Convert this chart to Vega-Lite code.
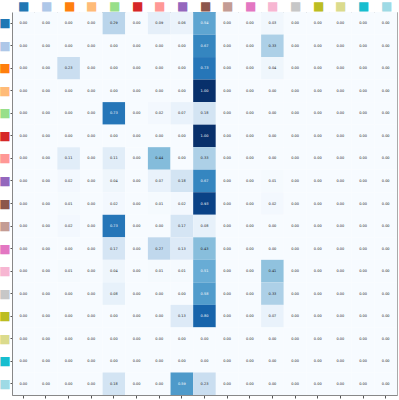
{
  "$schema": "https://vega.github.io/schema/vega-lite/v6.json",
  "width": 385,
  "height": 383,
  "autosize": "none",
  "padding": {"left": 12, "top": 12, "right": 2, "bottom": 5},
  "background": "white",
  "config": {"view": {"stroke": "#aaaaaa", "strokeWidth": 1}},
  "data": {"values": [
{"r":0,"c":0,"v":0},{"r":0,"c":1,"v":0},{"r":0,"c":2,"v":0},{"r":0,"c":3,"v":0},{"r":0,"c":4,"v":0.29},{"r":0,"c":5,"v":0},{"r":0,"c":6,"v":0.09},{"r":0,"c":7,"v":0.06},{"r":0,"c":8,"v":0.54},{"r":0,"c":9,"v":0},{"r":0,"c":10,"v":0},{"r":0,"c":11,"v":0.03},{"r":0,"c":12,"v":0},{"r":0,"c":13,"v":0},{"r":0,"c":14,"v":0},{"r":0,"c":15,"v":0},{"r":0,"c":16,"v":0},
{"r":1,"c":0,"v":0},{"r":1,"c":1,"v":0},{"r":1,"c":2,"v":0},{"r":1,"c":3,"v":0},{"r":1,"c":4,"v":0},{"r":1,"c":5,"v":0},{"r":1,"c":6,"v":0},{"r":1,"c":7,"v":0},{"r":1,"c":8,"v":0.67},{"r":1,"c":9,"v":0},{"r":1,"c":10,"v":0},{"r":1,"c":11,"v":0.33},{"r":1,"c":12,"v":0},{"r":1,"c":13,"v":0},{"r":1,"c":14,"v":0},{"r":1,"c":15,"v":0},{"r":1,"c":16,"v":0},
{"r":2,"c":0,"v":0},{"r":2,"c":1,"v":0},{"r":2,"c":2,"v":0.23},{"r":2,"c":3,"v":0},{"r":2,"c":4,"v":0},{"r":2,"c":5,"v":0},{"r":2,"c":6,"v":0},{"r":2,"c":7,"v":0},{"r":2,"c":8,"v":0.73},{"r":2,"c":9,"v":0},{"r":2,"c":10,"v":0},{"r":2,"c":11,"v":0.04},{"r":2,"c":12,"v":0},{"r":2,"c":13,"v":0},{"r":2,"c":14,"v":0},{"r":2,"c":15,"v":0},{"r":2,"c":16,"v":0},
{"r":3,"c":0,"v":0},{"r":3,"c":1,"v":0},{"r":3,"c":2,"v":0},{"r":3,"c":3,"v":0},{"r":3,"c":4,"v":0},{"r":3,"c":5,"v":0},{"r":3,"c":6,"v":0},{"r":3,"c":7,"v":0},{"r":3,"c":8,"v":1.0},{"r":3,"c":9,"v":0},{"r":3,"c":10,"v":0},{"r":3,"c":11,"v":0},{"r":3,"c":12,"v":0},{"r":3,"c":13,"v":0},{"r":3,"c":14,"v":0},{"r":3,"c":15,"v":0},{"r":3,"c":16,"v":0},
{"r":4,"c":0,"v":0},{"r":4,"c":1,"v":0},{"r":4,"c":2,"v":0},{"r":4,"c":3,"v":0},{"r":4,"c":4,"v":0.73},{"r":4,"c":5,"v":0},{"r":4,"c":6,"v":0.02},{"r":4,"c":7,"v":0.07},{"r":4,"c":8,"v":0.18},{"r":4,"c":9,"v":0},{"r":4,"c":10,"v":0},{"r":4,"c":11,"v":0},{"r":4,"c":12,"v":0},{"r":4,"c":13,"v":0},{"r":4,"c":14,"v":0},{"r":4,"c":15,"v":0},{"r":4,"c":16,"v":0},
{"r":5,"c":0,"v":0},{"r":5,"c":1,"v":0},{"r":5,"c":2,"v":0},{"r":5,"c":3,"v":0},{"r":5,"c":4,"v":0},{"r":5,"c":5,"v":0},{"r":5,"c":6,"v":0},{"r":5,"c":7,"v":0},{"r":5,"c":8,"v":1.0},{"r":5,"c":9,"v":0},{"r":5,"c":10,"v":0},{"r":5,"c":11,"v":0},{"r":5,"c":12,"v":0},{"r":5,"c":13,"v":0},{"r":5,"c":14,"v":0},{"r":5,"c":15,"v":0},{"r":5,"c":16,"v":0},
{"r":6,"c":0,"v":0},{"r":6,"c":1,"v":0},{"r":6,"c":2,"v":0.11},{"r":6,"c":3,"v":0},{"r":6,"c":4,"v":0.11},{"r":6,"c":5,"v":0},{"r":6,"c":6,"v":0.44},{"r":6,"c":7,"v":0},{"r":6,"c":8,"v":0.33},{"r":6,"c":9,"v":0},{"r":6,"c":10,"v":0},{"r":6,"c":11,"v":0},{"r":6,"c":12,"v":0},{"r":6,"c":13,"v":0},{"r":6,"c":14,"v":0},{"r":6,"c":15,"v":0},{"r":6,"c":16,"v":0},
{"r":7,"c":0,"v":0},{"r":7,"c":1,"v":0},{"r":7,"c":2,"v":0.02},{"r":7,"c":3,"v":0},{"r":7,"c":4,"v":0.04},{"r":7,"c":5,"v":0},{"r":7,"c":6,"v":0.07},{"r":7,"c":7,"v":0.18},{"r":7,"c":8,"v":0.67},{"r":7,"c":9,"v":0},{"r":7,"c":10,"v":0},{"r":7,"c":11,"v":0.01},{"r":7,"c":12,"v":0},{"r":7,"c":13,"v":0},{"r":7,"c":14,"v":0},{"r":7,"c":15,"v":0},{"r":7,"c":16,"v":0},
{"r":8,"c":0,"v":0},{"r":8,"c":1,"v":0},{"r":8,"c":2,"v":0.01},{"r":8,"c":3,"v":0},{"r":8,"c":4,"v":0.02},{"r":8,"c":5,"v":0},{"r":8,"c":6,"v":0.01},{"r":8,"c":7,"v":0.02},{"r":8,"c":8,"v":0.93},{"r":8,"c":9,"v":0},{"r":8,"c":10,"v":0},{"r":8,"c":11,"v":0.02},{"r":8,"c":12,"v":0},{"r":8,"c":13,"v":0},{"r":8,"c":14,"v":0},{"r":8,"c":15,"v":0},{"r":8,"c":16,"v":0},
{"r":9,"c":0,"v":0},{"r":9,"c":1,"v":0},{"r":9,"c":2,"v":0.02},{"r":9,"c":3,"v":0},{"r":9,"c":4,"v":0.73},{"r":9,"c":5,"v":0},{"r":9,"c":6,"v":0},{"r":9,"c":7,"v":0.17},{"r":9,"c":8,"v":0.08},{"r":9,"c":9,"v":0},{"r":9,"c":10,"v":0},{"r":9,"c":11,"v":0},{"r":9,"c":12,"v":0},{"r":9,"c":13,"v":0},{"r":9,"c":14,"v":0},{"r":9,"c":15,"v":0},{"r":9,"c":16,"v":0},
{"r":10,"c":0,"v":0},{"r":10,"c":1,"v":0},{"r":10,"c":2,"v":0},{"r":10,"c":3,"v":0},{"r":10,"c":4,"v":0.17},{"r":10,"c":5,"v":0},{"r":10,"c":6,"v":0.27},{"r":10,"c":7,"v":0.13},{"r":10,"c":8,"v":0.43},{"r":10,"c":9,"v":0},{"r":10,"c":10,"v":0},{"r":10,"c":11,"v":0},{"r":10,"c":12,"v":0},{"r":10,"c":13,"v":0},{"r":10,"c":14,"v":0},{"r":10,"c":15,"v":0},{"r":10,"c":16,"v":0},
{"r":11,"c":0,"v":0},{"r":11,"c":1,"v":0},{"r":11,"c":2,"v":0.01},{"r":11,"c":3,"v":0},{"r":11,"c":4,"v":0.04},{"r":11,"c":5,"v":0},{"r":11,"c":6,"v":0.01},{"r":11,"c":7,"v":0.01},{"r":11,"c":8,"v":0.51},{"r":11,"c":9,"v":0},{"r":11,"c":10,"v":0},{"r":11,"c":11,"v":0.41},{"r":11,"c":12,"v":0},{"r":11,"c":13,"v":0},{"r":11,"c":14,"v":0},{"r":11,"c":15,"v":0},{"r":11,"c":16,"v":0},
{"r":12,"c":0,"v":0},{"r":12,"c":1,"v":0},{"r":12,"c":2,"v":0},{"r":12,"c":3,"v":0},{"r":12,"c":4,"v":0.08},{"r":12,"c":5,"v":0},{"r":12,"c":6,"v":0},{"r":12,"c":7,"v":0},{"r":12,"c":8,"v":0.58},{"r":12,"c":9,"v":0},{"r":12,"c":10,"v":0},{"r":12,"c":11,"v":0.33},{"r":12,"c":12,"v":0},{"r":12,"c":13,"v":0},{"r":12,"c":14,"v":0},{"r":12,"c":15,"v":0},{"r":12,"c":16,"v":0},
{"r":13,"c":0,"v":0},{"r":13,"c":1,"v":0},{"r":13,"c":2,"v":0},{"r":13,"c":3,"v":0},{"r":13,"c":4,"v":0},{"r":13,"c":5,"v":0},{"r":13,"c":6,"v":0},{"r":13,"c":7,"v":0.13},{"r":13,"c":8,"v":0.8},{"r":13,"c":9,"v":0},{"r":13,"c":10,"v":0},{"r":13,"c":11,"v":0.07},{"r":13,"c":12,"v":0},{"r":13,"c":13,"v":0},{"r":13,"c":14,"v":0},{"r":13,"c":15,"v":0},{"r":13,"c":16,"v":0},
{"r":14,"c":0,"v":0},{"r":14,"c":1,"v":0},{"r":14,"c":2,"v":0},{"r":14,"c":3,"v":0},{"r":14,"c":4,"v":0},{"r":14,"c":5,"v":0},{"r":14,"c":6,"v":0},{"r":14,"c":7,"v":0},{"r":14,"c":8,"v":0},{"r":14,"c":9,"v":0},{"r":14,"c":10,"v":0},{"r":14,"c":11,"v":0},{"r":14,"c":12,"v":0},{"r":14,"c":13,"v":0},{"r":14,"c":14,"v":0},{"r":14,"c":15,"v":0},{"r":14,"c":16,"v":0},
{"r":15,"c":0,"v":0},{"r":15,"c":1,"v":0},{"r":15,"c":2,"v":0},{"r":15,"c":3,"v":0},{"r":15,"c":4,"v":0},{"r":15,"c":5,"v":0},{"r":15,"c":6,"v":0},{"r":15,"c":7,"v":0},{"r":15,"c":8,"v":0},{"r":15,"c":9,"v":0},{"r":15,"c":10,"v":0},{"r":15,"c":11,"v":0},{"r":15,"c":12,"v":0},{"r":15,"c":13,"v":0},{"r":15,"c":14,"v":0},{"r":15,"c":15,"v":0},{"r":15,"c":16,"v":0},
{"r":16,"c":0,"v":0},{"r":16,"c":1,"v":0},{"r":16,"c":2,"v":0},{"r":16,"c":3,"v":0},{"r":16,"c":4,"v":0.18},{"r":16,"c":5,"v":0},{"r":16,"c":6,"v":0},{"r":16,"c":7,"v":0.59},{"r":16,"c":8,"v":0.23},{"r":16,"c":9,"v":0},{"r":16,"c":10,"v":0},{"r":16,"c":11,"v":0},{"r":16,"c":12,"v":0},{"r":16,"c":13,"v":0},{"r":16,"c":14,"v":0},{"r":16,"c":15,"v":0},{"r":16,"c":16,"v":0}
  ]},
  "layer": [
    {
      "mark": {"type": "rect"},
      "encoding": {
        "x": {"field": "c", "type": "ordinal", "scale": {"paddingInner": 0, "paddingOuter": 0},
          "axis": {"orient": "bottom", "title": null, "labels": false, "ticks": true, "tickSize": 3, "tickColor": "#555", "domainColor": "#888", "grid": false}},
        "y": {"field": "r", "type": "ordinal", "scale": {"paddingInner": 0, "paddingOuter": 0},
          "axis": {"orient": "left", "title": null, "ticks": true, "tickSize": 2, "tickColor": "#555", "domainColor": "#888", "grid": false,
            "labelExpr": "'■'", "labelFontSize": 12, "labelPadding": 0, "labelFont": "DejaVu Sans",
            "labelColor": {"expr": "['#1f77b4','#aec7e8','#ff7f0e','#ffbb78','#98df8a','#d62728','#ff9896','#9467bd','#8c564b','#c49c94','#e377c2','#f7b6d2','#c7c7c7','#bcbd22','#dbdb8d','#17becf','#9edae5'][datum.value]"}}},
        "color": {"field": "v", "type": "quantitative", "legend": null,
          "scale": {"domain": [0, 0.125, 0.25, 0.375, 0.5, 0.625, 0.75, 0.875, 1],
                    "range": ["#f7fbff", "#deebf7", "#c6dbef", "#9ecae1", "#6baed6", "#4292c6", "#2171b5", "#08519c", "#08306b"]}}
      }
    },
    {
      "mark": {"type": "text", "fontSize": 3.5, "font": "DejaVu Sans"},
      "encoding": {
        "x": {"field": "c", "type": "ordinal",
          "axis": {"orient": "top", "title": null, "ticks": false, "domain": false, "grid": false,
            "labelExpr": "'■'", "labelFontSize": 12, "labelPadding": 0, "labelFont": "DejaVu Sans",
            "labelColor": {"expr": "['#1f77b4','#aec7e8','#ff7f0e','#ffbb78','#98df8a','#d62728','#ff9896','#9467bd','#8c564b','#c49c94','#e377c2','#f7b6d2','#c7c7c7','#bcbd22','#dbdb8d','#17becf','#9edae5'][datum.value]"}}},
        "y": {"field": "r", "type": "ordinal", "axis": null},
        "text": {"field": "v", "type": "quantitative", "format": ".2f"},
        "color": {"condition": {"test": "datum.v > 0.5", "value": "white"}, "value": "#222222"}
      }
    }
  ],
  "resolve": {"axis": {"x": "independent", "y": "independent"}}
}
